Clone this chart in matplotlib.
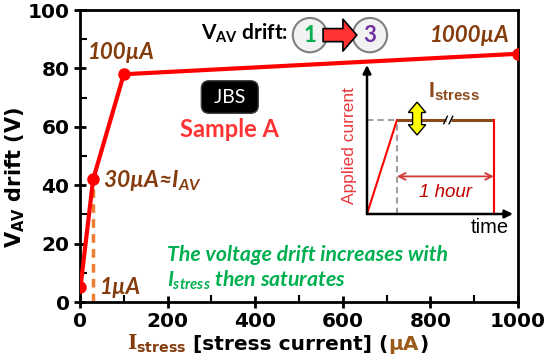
import numpy as np
import matplotlib.pyplot as plt
from matplotlib.patches import Polygon
from matplotlib.ticker import MultipleLocator

plt.rcParams['mathtext.fontset'] = 'custom'
plt.rcParams['mathtext.rm'] = 'Liberation Sans:bold'
plt.rcParams['mathtext.it'] = 'Lato:italic:bold'
plt.rcParams['mathtext.bf'] = 'DejaVu Serif:bold'
plt.rcParams['mathtext.sf'] = 'DejaVu Sans:bold'
plt.rcParams['mathtext.cal'] = 'Lato:bold'

# measured drift vs stress current
i_stress = [1, 30, 100, 1000]      # uA
v_drift = [5, 42, 78, 85]          # V
i_av = 30
v_at_iav = 42

# inset schematic: stress profile (arbitrary units)
ramp_t = [0, 1]
ramp_i = [0, 1]
plateau_t = [1, 4.23]
t_axis_end = 4.87
i_axis_end = 1.585

RED = '#FF0000'
BROWN = '#843C0C'
ORANGE = '#ED7D31'
GREEN = '#00B050'

fig = plt.figure(figsize=(5.47, 3.62), dpi=100)
ax = fig.add_axes([80 / 547, 1 - 302 / 362, 438 / 547, 292 / 362])

ax.plot([i_av, i_av], [0, v_at_iav], color=ORANGE, lw=2.5, dashes=(2.5, 1.8), zorder=2)
ax.plot(i_stress, v_drift, color=RED, lw=3, marker='o', ms=8, zorder=3)

ax.set_xlim(0, 1000)
ax.set_ylim(0, 100)
ax.xaxis.set_major_locator(MultipleLocator(200))
ax.xaxis.set_minor_locator(MultipleLocator(100))
ax.yaxis.set_major_locator(MultipleLocator(20))
ax.yaxis.set_minor_locator(MultipleLocator(10))
ax.tick_params(which='major', direction='inout', length=9, width=2, pad=3,
               labelsize=14.5)
ax.tick_params(which='minor', direction='in', length=5, width=1.5)
for lab in ax.get_xticklabels() + ax.get_yticklabels():
    lab.set_fontweight('bold')
for s in ax.spines.values():
    s.set_linewidth(2)

# axis labels
ax.text(-0.148, 0.425, r'$\mathsf{V_{AV}}$ drift (V)', transform=ax.transAxes,
        rotation=90, ha='center', va='center', fontsize=15, fontweight='bold')


def chain(ax, x, y, pieces, **kw):
    t = None
    for s, col in pieces:
        if t is None:
            t = ax.text(x, y, s, transform=ax.transAxes, color=col,
                        va='baseline', ha='left', **kw)
        else:
            t = ax.annotate(s, xy=(1, y), xycoords=(t, 'axes fraction'),
                            color=col, va='baseline', ha='left',
                            annotation_clip=False, **kw)
    return t


chain(ax, 0.107, -0.164,
      [(r'$\mathbf{I}_{\mathsf{stress}}$', BROWN),
       (' [stress current] (', 'black'),
       ('µA', '#9C5A1A'),
       (')', 'black')],
      fontsize=14.5, fontweight='bold')

# annotations on the curve
ann = dict(family='Lato', fontweight='bold', style='italic', color=BROWN)
ax.text(18, 83.2, '100µA', fontsize=16, **ann)
ax.text(982, 89, '1000µA', fontsize=16, ha='right', **ann)
ax.text(52, 39.4, r'30µA≈$I_{AV}$', fontsize=16.5, **ann)
ax.text(46, 2.7, '1µA', fontsize=16, **ann)

grn = dict(family='Lato', fontweight='bold', style='italic', color=GREEN, fontsize=15.3)
ax.text(199, 14.0, 'The voltage drift increases with', **grn)
ax.text(199, 5.1, r'$I_{stress}$ then saturates', **grn)

ax.text(342, 70.2, ' JBS ', family='Lato', fontsize=14, color='white',
        ha='center', va='center',
        bbox=dict(boxstyle='round,pad=0.4,rounding_size=0.4', fc='black', ec='#404040'))
ax.text(342, 56.5, 'Sample A', family='Lato', fontweight='bold', fontsize=17,
        color='#FF3333', ha='center', va='baseline')

# header: V_AV drift: (1) -> (3)
ax.text(276, 89.7, r'$\mathcal{V}_{\mathcal{AV}}$ drift:', family='Lato',
        fontweight='bold', fontsize=15, ha='left', va='baseline')
circ = dict(boxstyle='circle,pad=0.3', fc='#F2F2F2', ec='#7F7F7F', lw=1.5)
ax.text(525, 91.4, '1', family='Lato', fontweight='bold', fontsize=16, color=GREEN,
        ha='center', va='center', bbox=circ, zorder=5)
ax.text(662, 91.4, '3', family='Lato', fontweight='bold', fontsize=16, color='#7030A0',
        ha='center', va='center', bbox=circ, zorder=5)
ax.annotate('', xy=(632, 91.4), xytext=(555, 91.4), zorder=6,
            arrowprops=dict(arrowstyle='simple,head_length=0.5,head_width=1.15,tail_width=0.47',
                            fc='#FF3333', ec='black', lw=1.2, mutation_scale=20,
                            shrinkA=0, shrinkB=0))

# inset schematic
ins = fig.add_axes([367 / 547, 1 - 214 / 362, 146 / 547, 149 / 362])
ins.set_xlim(0, t_axis_end)
ins.set_ylim(0, i_axis_end)
ins.axis('off')
ins.patch.set_alpha(0)

ins.plot([0, plateau_t[0]], [ramp_i[1], ramp_i[1]], color='#A0A0A0', lw=1.5,
         dashes=(3, 2), clip_on=False)
ins.plot([plateau_t[0], plateau_t[0]], [0, ramp_i[1]], color='#A0A0A0', lw=1.5,
         dashes=(3, 2), clip_on=False)
ins.plot(ramp_t, ramp_i, color=RED, lw=1.5, clip_on=False)
ins.plot([plateau_t[0], 2.62], [1, 1], color='#8C4A1C', lw=2.2, solid_capstyle='butt')
ins.plot([2.80, plateau_t[1]], [1, 1], color='#8C4A1C', lw=2.2, solid_capstyle='butt')
for xs in (2.62, 2.80):
    ins.plot([xs - 0.06, xs + 0.06], [0.96, 1.04], color='black', lw=1)
ins.plot([plateau_t[1], plateau_t[1]], [0, 1], color=RED, lw=1.5)

ins.annotate('', xy=(0, i_axis_end), xytext=(0, 0), annotation_clip=False,
             arrowprops=dict(arrowstyle='-|>', color='black', lw=1.8,
                             mutation_scale=12, shrinkA=0, shrinkB=0))
ins.annotate('', xy=(t_axis_end, 0), xytext=(0, 0), annotation_clip=False,
             arrowprops=dict(arrowstyle='-|>', color='black', lw=1.8,
                             mutation_scale=12, shrinkA=0, shrinkB=0))
ins.annotate('', xy=(plateau_t[1], 0.40), xytext=(plateau_t[0], 0.40),
             arrowprops=dict(arrowstyle='<->', color='#D03838', lw=1.3,
                             mutation_scale=12, shrinkA=0, shrinkB=0))
ins.text(2.63, 0.23, '1 hour', family='Liberation Sans', style='italic',
         fontsize=13.5, color='#C00000', ha='center', va='center')
ins.text(-0.57, 0.73, 'Applied current', family='Liberation Sans', fontsize=12.5,
         color='#E8383D', rotation=90, ha='center', va='center')
ins.text(4.1, -0.14, 'time', family='Liberation Sans', fontsize=14.5,
         ha='center', va='center', clip_on=False)
ins.text(2.03, 1.245, r'$\mathrm{I}_{\mathrm{stress}}$', fontsize=15.5, color='#8C4A1C',
         ha='left', va='baseline')

# yellow double arrow
cx, y0, y1 = 1.67, 0.84, 1.19
hw, sw, hl = 0.29, 0.15, 0.11
verts = [(cx, y1), (cx + hw, y1 - hl), (cx + sw, y1 - hl), (cx + sw, y0 + hl),
         (cx + hw, y0 + hl), (cx, y0), (cx - hw, y0 + hl), (cx - sw, y0 + hl),
         (cx - sw, y1 - hl), (cx - hw, y1 - hl)]
ins.add_patch(Polygon(verts, closed=True, fc='#FFFF00', ec='black', lw=1, zorder=5))

fig.savefig('out.png', dpi=100)
